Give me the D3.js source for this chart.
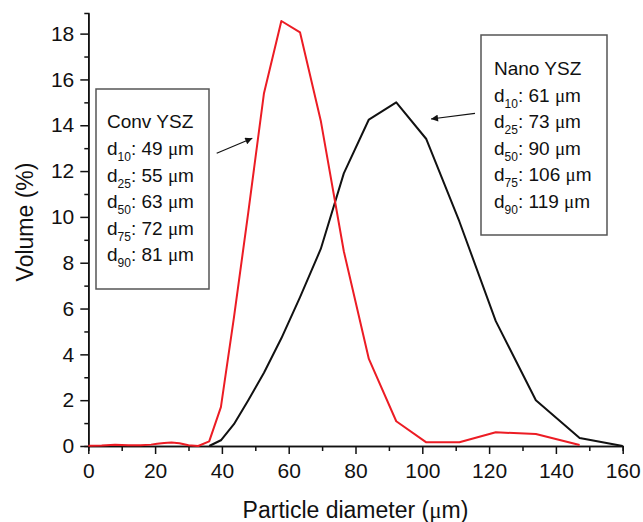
<!DOCTYPE html>
<html>
<head>
<meta charset="utf-8">
<script src="https://cdn.jsdelivr.net/npm/d3@7"></script>
<style>
  body { margin: 0; background: #fff; }
  svg { display: block; font-family: "Liberation Sans", Arial, sans-serif; }
</style>
</head>
<body>
<svg width="643" height="522"></svg>
<script>
// Conv YSZ (red) curve
const convX = [0, 4, 8, 12, 15.6, 18.8, 20.6, 22.7, 24.9, 27.3, 30.0, 32.9, 36.2, 39.7, 43.6, 47.9, 52.6, 57.8, 63.4, 69.6, 76.5, 84.0, 92.2, 101.2, 111.1, 122.0, 134.0, 147.1]
const convY = [0.01, 0.02, 0.05, 0.03, 0.03, 0.06, 0.1, 0.13, 0.15, 0.12, 0.03, 0.0, 0.2, 1.7, 5.6, 10.2, 15.4, 18.55, 18.05, 14.2, 8.5, 3.8, 1.08, 0.16, 0.16, 0.6, 0.52, 0.04]

// Nano YSZ (black) curve
const nanoX = [36.2, 39.7, 43.6, 47.9, 52.6, 57.8, 63.4, 69.6, 76.5, 84.0, 92.2, 101.2, 111.1, 122.0, 134.0, 147.1, 160]
const nanoY = [0, 0.25, 0.95, 2.0, 3.2, 4.7, 6.5, 8.6, 11.9, 14.25, 15.0, 13.4, 9.8, 5.45, 2.0, 0.35, 0]

const xTicks = [0, 20, 40, 60, 80, 100, 120, 140, 160]
const xMinor = [10, 30, 50, 70, 90, 110, 130, 150]
const yTicks = [0, 2, 4, 6, 8, 10, 12, 14, 16, 18]
const yMinor = [1, 3, 5, 7, 9, 11, 13, 15, 17]

const percentiles = ["10", "25", "50", "75", "90"]
const convD = [49, 55, 63, 72, 81]
const nanoD = [61, 73, 90, 106, 119]

const svg = d3.select("svg")
const margin = {left: 88.3, top: 13, right: 20.3, bottom: 76}
const W = 643, H = 522
const x = d3.scaleLinear().domain([0, 160]).range([margin.left, W - margin.right])
const y = d3.scaleLinear().domain([0, 18.9]).range([H - margin.bottom, margin.top])

function styleAxis(g) {
    g.select(".domain").attr("stroke", "#111").attr("stroke-width", 1.6)
    g.selectAll(".tick line").attr("stroke", "#111").attr("stroke-width", 1.5)
    g.selectAll(".tick text").attr("fill", "#111").style("font-size", "21px")
        .style("font-family", "Liberation Sans, Arial, sans-serif")
}

// minor ticks first, majors on top
svg.append("g")
    .attr("transform", `translate(0,${y(0)})`)
    .call(d3.axisBottom(x).tickValues(xMinor).tickSize(5).tickFormat(""))
    .call(styleAxis)
svg.append("g")
    .attr("transform", `translate(${x(0)},0)`)
    .call(d3.axisLeft(y).tickValues(yMinor).tickSize(4).tickFormat(""))
    .call(styleAxis)

svg.append("g")
    .attr("transform", `translate(0,${y(0)})`)
    .call(d3.axisBottom(x).tickValues(xTicks).tickSize(8).tickPadding(9).tickSizeOuter(0))
    .call(styleAxis)
svg.append("g")
    .attr("transform", `translate(${x(0)},0)`)
    .call(d3.axisLeft(y).tickValues(yTicks).tickSize(8).tickPadding(6).tickSizeOuter(0))
    .call(styleAxis)

// axis titles
svg.append("text")
    .attr("x", (x(0) + x(160)) / 2)
    .attr("y", 518)
    .attr("text-anchor", "middle")
    .attr("fill", "#111")
    .style("font-size", "23px")
    .text("Particle diameter (")
    .append("tspan").style("font-family", "Liberation Serif, serif").text("μ")
    .select(function() { return this.parentNode })
    .append("tspan").text("m)")

svg.append("text")
    .attr("transform", "translate(33,222) rotate(-90)")
    .attr("text-anchor", "middle")
    .attr("fill", "#111")
    .style("font-size", "23px")
    .text("Volume (%)")

// curves
const line = d3.line().x(d => x(d[0])).y(d => y(d[1]))

svg.append("path")
    .datum(nanoX.map((v, i) => [v, nanoY[i]]))
    .attr("d", line)
    .attr("fill", "none")
    .attr("stroke", "#111")
    .attr("stroke-width", 2)
    .attr("stroke-linejoin", "round")

svg.append("path")
    .datum(convX.map((v, i) => [v, convY[i]]))
    .attr("d", line)
    .attr("fill", "none")
    .attr("stroke", "#ec1c24")
    .attr("stroke-width", 2)
    .attr("stroke-linejoin", "round")

// annotation boxes
function infoBox(bx, by, bw, bh, tx, ty, title, vals) {
    svg.append("rect")
        .attr("x", bx).attr("y", by).attr("width", bw).attr("height", bh)
        .attr("fill", "#fff").attr("stroke", "#555").attr("stroke-width", 1.5)
    const lh = 26.6
    svg.append("text")
        .attr("x", tx).attr("y", ty)
        .attr("fill", "#111").style("font-size", "19px")
        .text(title)
    percentiles.forEach((p, i) => {
        const t = svg.append("text")
            .attr("x", tx).attr("y", ty + lh * (i + 1))
            .attr("fill", "#111").style("font-size", "19px")
        t.append("tspan").text("d")
        t.append("tspan").attr("dy", 6).style("font-size", "12px").text(p)
        t.append("tspan").attr("dy", -6).text(": " + vals[i] + " ")
        t.append("tspan").style("font-family", "Liberation Serif, serif").text("μ")
        t.append("tspan").text("m")
    })
}

infoBox(96, 89, 113, 200, 107, 128.3, "Conv YSZ", convD)
infoBox(481, 35, 126, 200, 494, 75, "Nano YSZ", nanoD)

// arrows
svg.append("defs").append("marker")
    .attr("id", "head")
    .attr("viewBox", "0 0 10 10")
    .attr("refX", 10).attr("refY", 5)
    .attr("markerWidth", 9).attr("markerHeight", 7)
    .attr("markerUnits", "userSpaceOnUse")
    .attr("orient", "auto")
    .append("path").attr("d", "M0,0 L10,5 L0,10 z").attr("fill", "#111")

svg.append("line")
    .attr("x1", 216.7).attr("y1", 153.3).attr("x2", 252.3).attr("y2", 138.3)
    .attr("stroke", "#111").attr("stroke-width", 1.2).attr("marker-end", "url(#head)")
svg.append("line")
    .attr("x1", 475).attr("y1", 113.3).attr("x2", 431).attr("y2", 119)
    .attr("stroke", "#111").attr("stroke-width", 1.2).attr("marker-end", "url(#head)")
</script>
</body>
</html>
